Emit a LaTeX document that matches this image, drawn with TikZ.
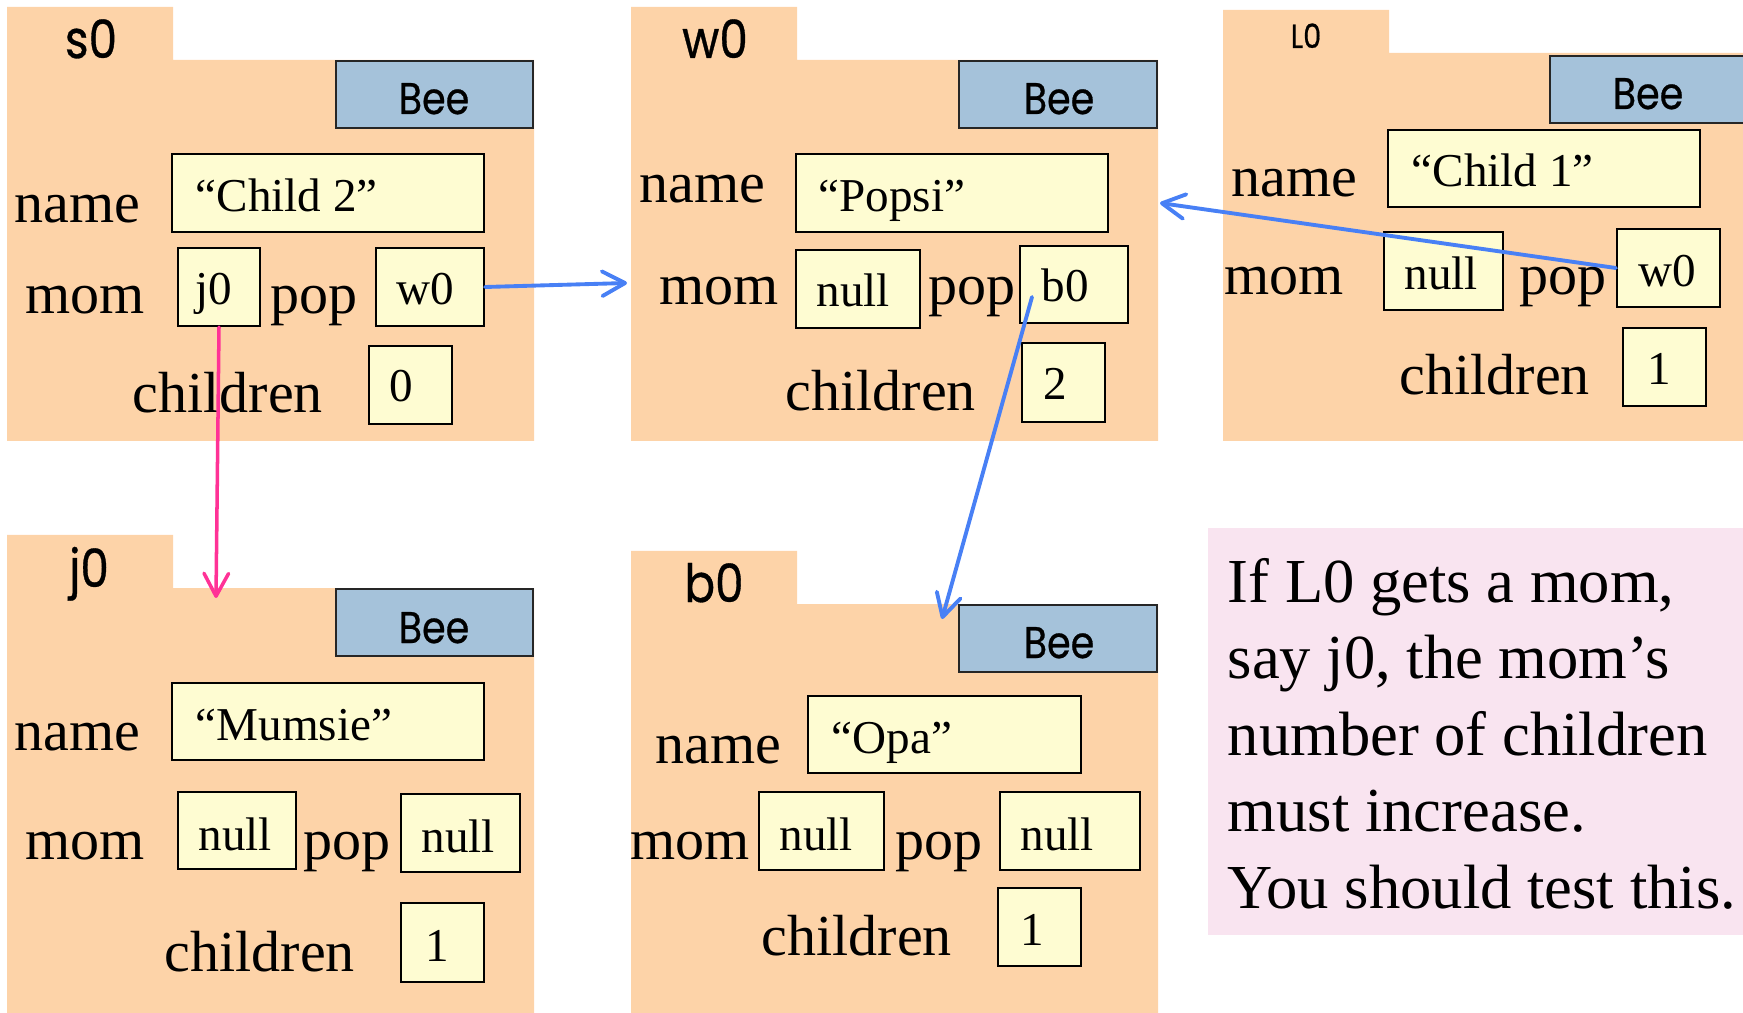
\documentclass[tikz,border=0pt]{standalone}
\usepackage{fontspec}
\setmainfont{Liberation Serif}
\newfontfamily\geofont{Poppins}[FakeStretch=0.86,FakeBold=0.6]
\usetikzlibrary{arrows.meta,fit}

\definecolor{peach}{RGB}{253,211,168}
\definecolor{beeblue}{RGB}{165,194,218}
\definecolor{valfill}{RGB}{254,252,210}
\definecolor{notefill}{RGB}{249,228,240}
\definecolor{refblue}{RGB}{72,128,245}
\definecolor{refpink}{RGB}{255,50,150}

\begin{document}
\begin{tikzpicture}[x=0.01cm,y=-0.01cm,
  objbody/.style={fill=peach},
  beebox/.style={draw=black!85, fill=beeblue, line width=0.75pt, inner sep=0pt},
  valbox/.style={draw=black, fill=valfill, line width=0.65pt, inner sep=0pt},
  fieldlbl/.style={font=\fontsize{16.5}{18}\selectfont, anchor=base west, inner sep=0pt},
  fieldval/.style={font=\fontsize{13.4}{15}\selectfont, anchor=base west, inner sep=0pt},
  objname/.style={font=\geofont\fontsize{15}{17}\selectfont, anchor=base, inner sep=0pt},
  smallname/.style={font=\geofont\fontsize{9.5}{11}\selectfont, anchor=base, inner sep=0pt},
  classname/.style={font=\geofont\fontsize{12.6}{14}\selectfont, anchor=base, inner sep=0pt},
  notetext/.style={font=\fontsize{17.8}{21}\selectfont, anchor=base west, inner sep=0pt},
  ptr/.style={draw=refblue, line width=1.1pt, line cap=round,
    -{Straight Barb[length=6.5pt,width=7pt,line cap=round,line join=round]}},
  momptr/.style={draw=refpink, line width=1pt, line cap=round,
    -{Straight Barb[length=6.5pt,width=7pt,line cap=round,line join=round]}}
]
\useasboundingbox (0,0) rectangle (1743,1013);

% ---------------- object s0 ----------------
\fill[objbody] (7,7) -- (173,7) -- (173,60) -- (534,60) -- (534,441) -- (7,441) -- cycle;
\node[objname] (s0tab) at (91,58) {s0};
\node[beebox, fit={(336,61) (533,128)}] (s0cls) {};
\node[classname] (s0bee) at (434,114) {Bee};
\node[fieldlbl] (s0namel) at (14,223) {name};
\node[valbox, fit={(172,154) (484,232)}] (s0name) {};
\node[fieldval] (s0namev) at (195,212) {“Child 2”};
\node[fieldlbl] (s0moml) at (25,314) {mom};
\node[valbox, fit={(178,248) (260,326)}] (s0mom) {};
\node[fieldval] (s0momv) at (195,305) {j0};
\node[fieldlbl] (s0popl) at (270,314) {pop};
\node[valbox, fit={(376,248) (484,326)}] (s0pop) {};
\node[fieldval] (s0popv) at (396,305) {w0};
\node[fieldlbl] (s0chl) at (132,413) {children};
\node[valbox, fit={(369,346) (452,424)}] (s0ch) {};
\node[fieldval] (s0chv) at (389,402) {0};

% ---------------- object w0 ----------------
\fill[objbody] (631,7) -- (797,7) -- (797,60) -- (1158,60) -- (1158,441) -- (631,441) -- cycle;
\node[objname] (w0tab) at (715,58) {w0};
\node[beebox, fit={(959,61) (1157,128)}] (w0cls) {};
\node[classname] (w0bee) at (1059,114) {Bee};
\node[fieldlbl] (w0namel) at (639,203) {name};
\node[valbox, fit={(796,154) (1108,232)}] (w0name) {};
\node[fieldval] (w0namev) at (818,212) {“Popsi”};
\node[fieldlbl] (w0moml) at (659,305) {mom};
\node[valbox, fit={(796,250) (920,328)}] (w0mom) {};
\node[fieldval] (w0momv) at (816,307) {null};
\node[fieldlbl] (w0popl) at (928,305) {pop};
\node[valbox, fit={(1020,246) (1128,323)}] (w0pop) {};
\node[fieldval] (w0popv) at (1041,302) {b0};
\node[fieldlbl] (w0chl) at (785,411) {children};
\node[valbox, fit={(1022,343) (1105,422)}] (w0ch) {};
\node[fieldval] (w0chv) at (1043,400) {2};

% ---------------- object L0 ----------------
\fill[objbody] (1223,10) -- (1389,10) -- (1389,53) -- (1750,53) -- (1750,441) -- (1223,441) -- cycle;
\node[smallname] (L0tab) at (1306,48) {L0};
\node[beebox, fit={(1550,56) (1760,123)}] (L0cls) {};
\node[classname] (L0bee) at (1648,109) {Bee};
\node[fieldlbl] (L0namel) at (1231,197) {name};
\node[valbox, fit={(1388,130) (1700,207)}] (L0name) {};
\node[fieldval] (L0namev) at (1411,187) {“Child 1”};
\node[fieldlbl] (L0moml) at (1224,295) {mom};
\node[valbox, fit={(1384,232) (1503,310)}] (L0mom) {};
\node[fieldval] (L0momv) at (1404,290) {null};
\node[fieldlbl] (L0popl) at (1519,295) {pop};
\node[valbox, fit={(1617,229) (1720,307)}] (L0pop) {};
\node[fieldval] (L0popv) at (1638,287) {w0};
\node[fieldlbl] (L0chl) at (1399,395) {children};
\node[valbox, fit={(1623,328) (1706,406)}] (L0ch) {};
\node[fieldval] (L0chv) at (1647,385) {1};

% ---------------- object j0 ----------------
\fill[objbody] (7,535) -- (173,535) -- (173,588) -- (534,588) -- (534,1013) -- (7,1013) -- cycle;
\node[objname] (j0tab) at (89,587) {j0};
\node[beebox, fit={(336,589) (533,656)}] (j0cls) {};
\node[classname] (j0bee) at (434,643) {Bee};
\node[fieldlbl] (j0namel) at (14,750) {name};
\node[valbox, fit={(172,683) (484,760)}] (j0name) {};
\node[fieldval] (j0namev) at (195,740) {“Mumsie”};
\node[fieldlbl] (j0moml) at (25,859) {mom};
\node[valbox, fit={(178,792) (296,869)}] (j0mom) {};
\node[fieldval] (j0momv) at (198,850) {null};
\node[fieldlbl] (j0popl) at (303,859) {pop};
\node[valbox, fit={(401,794) (520,872)}] (j0pop) {};
\node[fieldval] (j0popv) at (421,852) {null};
\node[fieldlbl] (j0chl) at (164,971) {children};
\node[valbox, fit={(401,903) (484,982)}] (j0ch) {};
\node[fieldval] (j0chv) at (425,961) {1};

% ---------------- object b0 ----------------
\fill[objbody] (631,551) -- (797,551) -- (797,604) -- (1158,604) -- (1158,1013) -- (631,1013) -- cycle;
\node[objname] (b0tab) at (714,602) {b0};
\node[beebox, fit={(959,605) (1157,672)}] (b0cls) {};
\node[classname] (b0bee) at (1059,658) {Bee};
\node[fieldlbl] (b0namel) at (655,763) {name};
\node[valbox, fit={(808,696) (1081,773)}] (b0name) {};
\node[fieldval] (b0namev) at (831,753) {“Opa”};
\node[fieldlbl] (b0moml) at (630,859) {mom};
\node[valbox, fit={(759,792) (884,870)}] (b0mom) {};
\node[fieldval] (b0momv) at (779,850) {null};
\node[fieldlbl] (b0popl) at (895,859) {pop};
\node[valbox, fit={(1000,792) (1140,870)}] (b0pop) {};
\node[fieldval] (b0popv) at (1020,850) {null};
\node[fieldlbl] (b0chl) at (761,955) {children};
\node[valbox, fit={(998,888) (1081,966)}] (b0ch) {};
\node[fieldval] (b0chv) at (1020,945) {1};

% ---------------- note ----------------
\node[fill=notefill, inner sep=0pt, fit={(1208,528) (1750,935)}] (note) {};
\node[notetext] (note1) at (1227,602) {If L0 gets a mom,};
\node[notetext] (note2) at (1227,678.5) {say j0, the mom’s};
\node[notetext] (note3) at (1227,755) {number of children};
\node[notetext] (note4) at (1227,831.5) {must increase.};
\node[notetext] (note5) at (1227,908) {You should test this.};

% ---------------- references ----------------
\coordinate (j0in) at (216,598);
\coordinate (w0in) at (627,283);
\coordinate (w0side) at (1160,203);
\coordinate (b0ref) at (1032,297);
\coordinate (b0in) at (942,619);

\draw[momptr] (s0mom.south) -- (j0in);
\draw[ptr] (s0pop.east) -- (w0in);
\draw[ptr] (L0pop.west) -- (w0side);
\draw[ptr] (b0ref) -- (b0in);
\end{tikzpicture}
\end{document}
